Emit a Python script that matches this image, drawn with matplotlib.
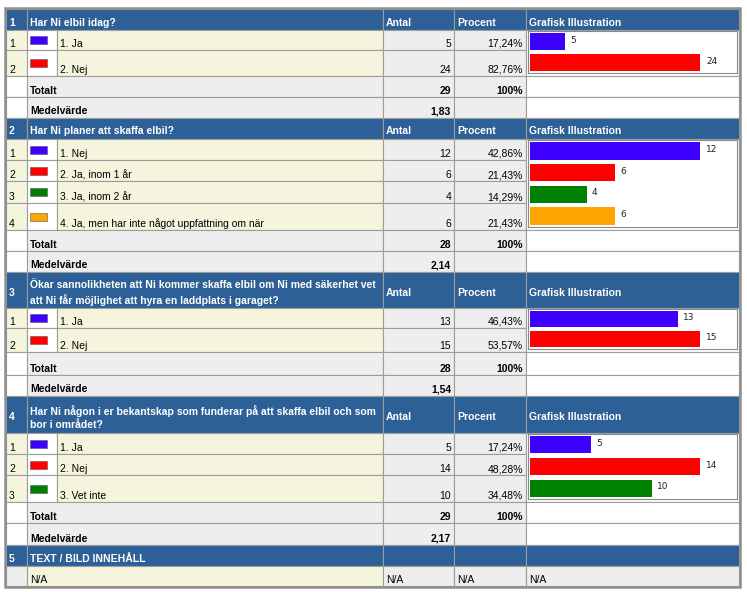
import matplotlib

matplotlib.use("Agg")
import matplotlib.pyplot as plt
from matplotlib.patches import Rectangle

question_numbers = ["1", "2", "3", "4"]
question_titles = [
    "Har Ni elbil idag?",
    "Har Ni planer att skaffa elbil?",
    "Ökar sannolikheten att Ni kommer skaffa elbil om Ni med säkerhet vet\n"
    "att Ni får möjlighet att hyra en laddplats i garaget?",
    "Har Ni någon i er bekantskap som funderar på att skaffa elbil och som\n"
    "bor i området?",
]
answer_labels = [
    ["1. Ja", "2. Nej"],
    ["1. Nej", "2. Ja, inom 1 år", "3. Ja, inom 2 år",
     "4. Ja, men har inte något uppfattning om när"],
    ["1. Ja", "2. Nej"],
    ["1. Ja", "2. Nej", "3. Vet inte"],
]
answer_counts = [
    [5, 24],
    [12, 6, 4, 6],
    [13, 15],
    [5, 14, 10],
]
mean_values = ["1,83", "2,14", "1,54", "2,17"]
column_headers = ["Antal", "Procent", "Grafisk Illustration"]
text_section_number = "5"
text_section_title = "TEXT / BILD INNEHÅLL"
na_label = "N/A"

# ---- layout (pixels) ----
W, H = 747, 592
COL = [6, 27, 57, 383, 454, 526, 739]
TOP = 9
header_heights = [21, 21, 36, 37]
item_heights = [[20, 26], [21, 21, 22, 27], [20, 24], [21, 21, 27]]
total_heights = [21, 21, 23, 21]
mean_heights = [21, 21, 21, 22]
text_header_height = 21
na_row_height = 20

answer_colors = ["#3d00ff", "#ff0000", "#008000", "#ffa500"]
HEAD = "#2d6096"
BEIGE = "#f5f5dd"
GRAY = "#eeeeee"
LINE = "#9c9c9c"
FONT = "Liberation Sans"
FS = 7.5
FS_B = 7.5

fig = plt.figure(figsize=(W / 100, H / 100), dpi=100)
ax = fig.add_axes([0, 0, 1, 1])
ax.set_xlim(0, W)
ax.set_ylim(H, 0)
ax.axis("off")


def cell(x0, x1, y0, y1, fc):
    ax.add_patch(Rectangle((x0, y0), x1 - x0, y1 - y0, facecolor=fc,
                           edgecolor=LINE, linewidth=0.8, zorder=1))


def txt(x, y, s, bold=False, color="black", ha="left", va="baseline", **kw):
    ax.text(x, y, s, ha=ha, va=va, color=color, family=FONT,
            fontsize=FS_B if bold else FS,
            fontweight="bold" if bold else "normal", zorder=3, **kw)


def header_row(y0, y1, num, title, cols=True):
    spans = [(COL[0], COL[1]), (COL[1], COL[3]), (COL[3], COL[4]),
             (COL[4], COL[5]), (COL[5], COL[6])]
    for a, b in spans:
        cell(a, b, y0, y1, HEAD)
    ym = (y0 + y1) / 2 + 3
    txt(9, ym, num, bold=True, color="white", va="center")
    txt(30, ym, title, bold=True, color="white", va="center", linespacing=1.45)
    if cols:
        for c, lab in zip(COL[3:6], column_headers):
            txt(c + 3, ym, lab, bold=True, color="white", va="center")


y = TOP
for q in range(len(question_titles)):
    y1 = y + header_heights[q]
    header_row(y, y1, question_numbers[q], question_titles[q])
    y = y1

    counts = answer_counts[q]
    total = sum(counts)
    items_top = y
    for i, (lab, n) in enumerate(zip(answer_labels[q], counts)):
        y1 = y + item_heights[q][i]
        cell(COL[0], COL[1], y, y1, BEIGE)
        cell(COL[1], COL[2], y, y1, "white")
        cell(COL[2], COL[3], y, y1, BEIGE)
        cell(COL[3], COL[4], y, y1, GRAY)
        cell(COL[4], COL[5], y, y1, GRAY)
        base = y1 - 3
        txt(9, base, str(i + 1))
        ym = (y + y1) / 2
        ax.add_patch(Rectangle((30, ym - 4), 17, 8, facecolor=answer_colors[i],
                               edgecolor="#555555", linewidth=0.4, zorder=2))
        txt(59.5, base, lab)
        txt(COL[4] - 3, base, str(n), ha="right")
        pct = f"{100 * n / total:.2f}%".replace(".", ",")
        txt(COL[5] - 3, base, pct, ha="right")
        y = y1
    items_bot = y
    cell(COL[5], COL[6], items_top, items_bot, "white")

    # bar illustration for the answers
    box_top, box_bot = items_top + 1, items_bot - 3
    bx = fig.add_axes([528 / W, 1 - box_bot / H, (737 - 528) / W,
                       (box_bot - box_top) / H])
    nb = len(counts)
    pos = list(range(nb))
    bx.barh(pos, counts, height=0.8, color=answer_colors[:nb])
    for p, n in zip(pos, counts):
        bx.annotate(str(n), (n, p), xytext=(4, 1), textcoords="offset points",
                    va="center", ha="left", fontsize=6.5, family="DejaVu Sans",
                    color="#222222")
    m = max(counts)
    bx.set_xlim(-0.0088 * m, 1.2135 * m)
    bx.set_ylim(nb - 0.5, -0.5)
    bx.set_xticks([])
    bx.set_yticks([])
    for sp in bx.spines.values():
        sp.set_color("#8a8a8a")
        sp.set_linewidth(0.8)

    # Totalt
    y1 = y + total_heights[q]
    cell(COL[0], COL[1], y, y1, "white")
    cell(COL[1], COL[3], y, y1, GRAY)
    cell(COL[3], COL[4], y, y1, GRAY)
    cell(COL[4], COL[5], y, y1, GRAY)
    cell(COL[5], COL[6], y, y1, "white")
    txt(30, y1 - 3.5, "Totalt", bold=True)
    txt(COL[4] - 3, y1 - 3.5, str(total), bold=True, ha="right")
    txt(COL[5] - 3, y1 - 3.5, "100%", bold=True, ha="right")
    y = y1

    # Medelvärde
    y1 = y + mean_heights[q]
    cell(COL[0], COL[1], y, y1, "white")
    cell(COL[1], COL[3], y, y1, GRAY)
    cell(COL[3], COL[4], y, y1, GRAY)
    cell(COL[4], COL[5], y, y1, GRAY)
    cell(COL[5], COL[6], y, y1, "white")
    txt(30, y1 - 3.5, "Medelvärde", bold=True)
    txt(COL[4] - 3, y1 - 3.5, mean_values[q], bold=True, ha="right")
    y = y1

# text / image section
y1 = y + text_header_height
header_row(y, y1, text_section_number, text_section_title, cols=False)
y = y1
y1 = y + na_row_height
cell(COL[0], COL[1], y, y1, GRAY)
cell(COL[1], COL[3], y, y1, BEIGE)
cell(COL[3], COL[4], y, y1, GRAY)
cell(COL[4], COL[5], y, y1, GRAY)
cell(COL[5], COL[6], y, y1, GRAY)
for c in (COL[1], COL[3], COL[4], COL[5]):
    txt(c + 3, y1 - 3, na_label)
y = y1

# outer frame
ax.add_patch(Rectangle((5, TOP - 1), 735, y - TOP + 2, facecolor="none",
                       edgecolor="#8f8f8f", linewidth=1.8, zorder=4))

fig.savefig("out.png", dpi=100)
